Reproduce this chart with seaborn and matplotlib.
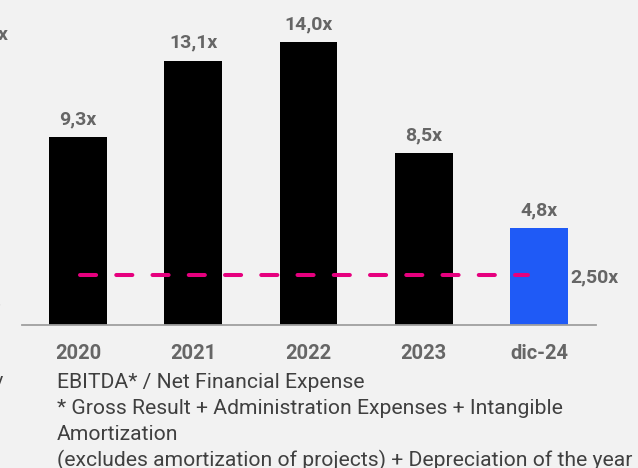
import numpy as np
import pandas as pd
import seaborn as sns
import matplotlib.pyplot as plt

# Data
periods = ['2020', '2021', '2022', '2023', 'dic-24']
coverage = [9.3, 13.1, 14.0, 8.5, 4.8]
value_labels = ['9,3x', '13,1x', '14,0x', '8,5x', '4,8x']
bar_colors = ['#000000', '#000000', '#000000', '#000000', '#1f5af6']
covenant = 2.5
covenant_label = '2,50x'
footnote = [
    'EBITDA* / Net Financial Expense',
    '* Gross Result + Administration Expenses + Intangible',
    'Amortization',
    '(excludes amortization of projects) + Depreciation of the year',
]

df = pd.DataFrame({'period': periods, 'coverage': coverage})

sns.set_style('white')
plt.rcParams['font.family'] = ['Roboto', 'DejaVu Sans']

bg = '#f2f2f2'
label_grey = '#666666'
W, H = 638, 468

fig = plt.figure(figsize=(W / 100, H / 100), dpi=100, facecolor=bg)
ax = fig.add_axes([22 / W, (H - 325) / H, (596 - 22) / W, 323 / H])
ax.set_facecolor(bg)

sns.barplot(data=df, x='period', y='coverage', hue='period',
            palette=dict(zip(periods, bar_colors)), width=0.5,
            saturation=1, legend=False, linewidth=0, ax=ax)

ax.set_xlim(-0.486, 4.495)
ax.set_ylim(0, 16)

# value labels above bars
for i, (v, lab) in enumerate(zip(coverage, value_labels)):
    ax.annotate(lab, (i, v), xytext=(0, 9.4), textcoords='offset points',
                ha='center', va='baseline', fontsize=14, fontweight='bold',
                color=label_grey)

# covenant dashed line
px = 1 / 115.25
line, = ax.plot([0 + 2 * px, 3.92 - 2 * px], [covenant, covenant],
                color='#e6007e', lw=2.9)
line.set_dashes((4.0, 5.0))
line.set_dash_capstyle('round')
ax.annotate(covenant_label, (4.275, covenant), xytext=(0, -5.8),
            textcoords='offset points', ha='left', va='baseline',
            fontsize=14, fontweight='bold', color=label_grey)

# axes styling
for side in ['top', 'right', 'left']:
    ax.spines[side].set_visible(False)
ax.spines['bottom'].set_color('#a0a0a0')
ax.spines['bottom'].set_linewidth(1.3)
ax.set_yticks([])
ax.set_xlabel('')
ax.set_ylabel('')
ax.tick_params(axis='x', length=0, pad=24.5)
for t in ax.get_xticklabels():
    t.set_fontsize(14.5)
    t.set_fontweight('bold')
    t.set_color(label_grey)
    t.set_va('baseline')

# footnote
for k, line_txt in enumerate(footnote):
    fig.text(57 / W, 1 - (388 + 26.2 * k) / H, line_txt, ha='left',
             va='baseline', fontsize=15.2, color='#404040')

# fragments of the neighbouring chart at the left edge
fig.text(-2 / W, 1 - 40 / H, 'x', ha='left', va='baseline', fontsize=14,
         fontweight='bold', color=label_grey)
fig.text(-2 / W, 1 - 305 / H, ',', ha='left', va='baseline', fontsize=10,
         color='#b0b0b0')
fig.text(-6 / W, 1 - 386 / H, 'y', ha='left', va='baseline', fontsize=14,
         color='#404040')

fig.savefig('out.png', dpi=100, facecolor=bg)
